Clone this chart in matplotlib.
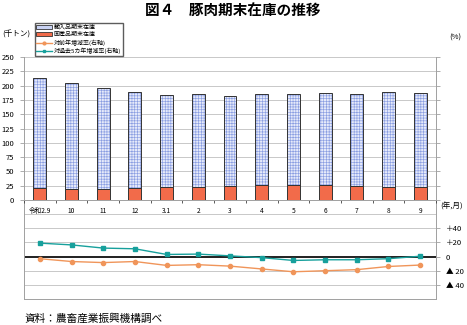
import matplotlib
matplotlib.use("Agg")
import matplotlib.pyplot as plt
import numpy as np
from matplotlib.patches import Patch
from matplotlib.lines import Line2D

plt.rcParams['font.family'] = ['Noto Sans CJK JP', 'DejaVu Sans']
plt.rcParams['hatch.linewidth'] = 0.45

# Monthly pork stocks (thousand tonnes) and growth rates (%)
months = ['令和2.9', '10', '11', '12', '3.1', '2', '3', '4', '5', '6', '7', '8', '9']
total_stock = [213, 204, 195, 188, 183, 184.5, 182, 184.5, 186, 187.5, 184.5, 188, 187.5]
domestic_stock = [20.5, 19.5, 19.5, 21.5, 23.5, 23.5, 24.5, 25.5, 26, 25.5, 24.5, 23.5, 22.5]
yoy_rate = [-3, -7, -8.5, -7, -12.5, -11.5, -13.5, -17.5, -21.5, -20, -18.5, -14, -12]
five_year_rate = [19, 16.5, 12, 11, 3, 3.5, 1, -1.5, -5.5, -4.5, -4.5, -3, 0.5]

imported_stock = [t - d for t, d in zip(total_stock, domestic_stock)]
x = np.arange(len(months))

W, H = 467, 325
fig = plt.figure(figsize=(W / 100, H / 100), dpi=100)

def px_axes(x0, y0, x1, y1):
    return fig.add_axes([x0 / W, 1 - y1 / H, (x1 - x0) / W, (y1 - y0) / H])

grid_c = '#c8c8c8'
axis_c = '#a0a0a0'
imp_face = '#e6eafa'
imp_hatch = '#8a9ee2'

# ---- lower panel: growth rates ----
ax2 = px_axes(24, 200, 436, 299)
ax2.set_xlim(-0.5, len(months) - 0.5)
ax2.set_ylim(-60, 80)
for v in [60, 40, 20, -20, -40]:
    ax2.axhline(v, color=grid_c, lw=0.7, zorder=0)
ax2.axhline(0, color='#202020', lw=1.4, zorder=1)
ax2.plot(x, yoy_rate, color='#f0955a', lw=1.0, marker='o', ms=3, zorder=3)
ax2.plot(x, five_year_rate, color='#17a09c', lw=1.0, marker='s', ms=3, zorder=3)
ax2.set_xticks([])
ax2.yaxis.tick_right()
ax2.set_yticks([40, 20, 0, -20, -40])
ax2.set_yticklabels(['＋40', '＋20', '0', '▲ 20', '▲ 40'], fontsize=5.5)
ax2.tick_params(axis='y', length=3, width=0.6, color=axis_c, pad=4)
for s in ['left', 'right', 'bottom']:
    ax2.spines[s].set_color(axis_c)
    ax2.spines[s].set_linewidth(0.7)
ax2.spines['top'].set_visible(False)
ax2.patch.set_alpha(0)

# ---- upper panel: stocks ----
ax = px_axes(24, 57, 436, 200)
ax.set_xlim(-0.5, len(months) - 0.5)
ax.set_ylim(0, 250)
ax.set_yticks(np.arange(0, 251, 25))
ax.yaxis.grid(True, color=grid_c, lw=0.7)
ax.set_axisbelow(True)
bw = 0.41
ax.bar(x, domestic_stock, bw, color='#f26b4a', edgecolor='#333333', lw=0.7, zorder=2)
ax.bar(x, imported_stock, bw, bottom=domestic_stock, color=imp_face,
       edgecolor=imp_hatch, hatch='++++++', lw=0, zorder=2)
ax.bar(x, imported_stock, bw, bottom=domestic_stock, fill=False,
       edgecolor='#333333', lw=0.7, zorder=3)
ax.set_xticks(x)
ax.set_xticklabels(months, fontsize=4.8)
ax.set_xticks(np.arange(-0.5, len(months), 1), minor=True)
ax.tick_params(axis='x', which='major', length=0, pad=5)
ax.tick_params(axis='x', which='minor', length=2, width=0.6, color='#404040')
ax.tick_params(axis='y', labelsize=5.5, length=3, width=0.6, color=axis_c, right=True, pad=4)
ax.spines['top'].set_visible(False)
for s in ['left', 'right', 'bottom']:
    ax.spines[s].set_color(axis_c)
    ax.spines[s].set_linewidth(0.7)
ax.patch.set_alpha(0)

# ---- legend ----
handles = [
    Patch(facecolor='#c9d2f3', edgecolor='#333333', lw=0.6),
    Patch(facecolor='#f26b4a', edgecolor='#333333', lw=0.6),
    Line2D([], [], color='#f0955a', lw=1.0, marker='o', ms=2),
    Line2D([], [], color='#17a09c', lw=1.0, marker='s', ms=2),
]
labels = ['輸入品期末在庫', '国産品期末在庫', '対前年増減率(右軸)', '対過去5カ年増減率(右軸)']
fig.legend(handles, labels, loc='upper left', bbox_to_anchor=(35 / W, 1 - 23 / H),
           fontsize=4.3, frameon=True, fancybox=False, edgecolor='#333333',
           handlelength=2.6, handleheight=0.6, labelspacing=0.35,
           borderpad=0.25, handletextpad=0.3, borderaxespad=0)

# ---- text ----
fig.text(233 / W, 1 - 10 / H, '図４　豚肉期末在庫の推移', ha='center', va='center',
         fontsize=10.5, fontweight='bold')
fig.text(2 / W, 1 - 35 / H, '(千トン)', ha='left', va='center', fontsize=5.5)
fig.text(455 / W, 1 - 38 / H, '(%)', ha='center', va='center', fontsize=5.5)
fig.text(452 / W, 1 - 207 / H, '(年,月)', ha='center', va='center', fontsize=5.5)
fig.text(24 / W, 1 - 318 / H, '資料：農畜産業振興機構調べ', ha='left', va='center', fontsize=7.7)

fig.savefig('out.png', dpi=100)
